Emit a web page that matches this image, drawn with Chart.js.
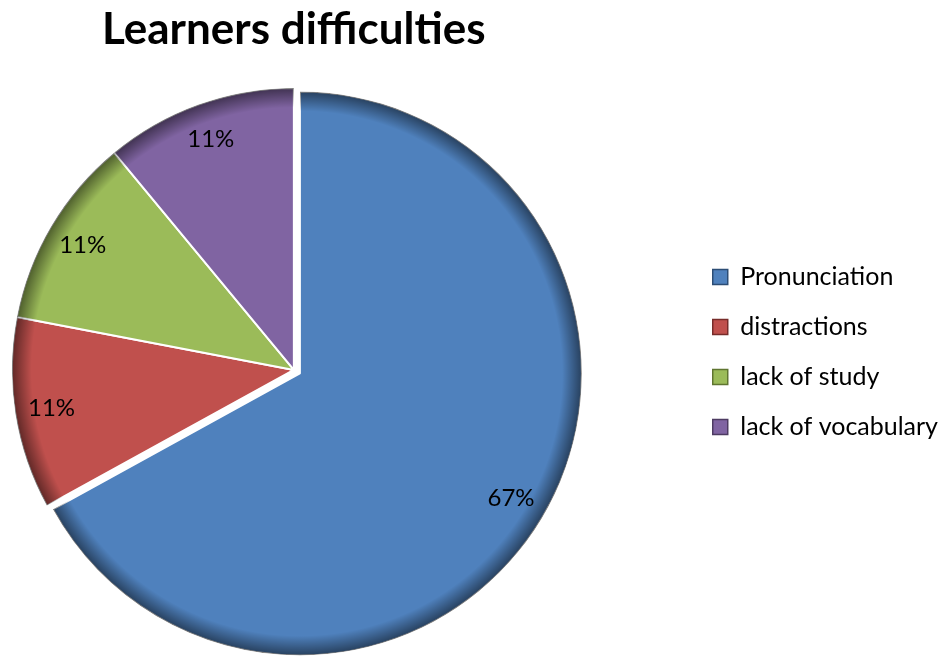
<!DOCTYPE html>
<html>
<head>
<meta charset="utf-8">
<title>Learners difficulties</title>
<script src="https://cdn.jsdelivr.net/npm/chart.js@4/dist/chart.umd.min.js"></script>
<style>
  html, body { margin: 0; padding: 0; background: #fff; }
  #wrap { width: 948px; height: 658px; position: relative; }
</style>
</head>
<body>
<div id="wrap"><canvas id="difficulties"></canvas></div>
<script>
// values (percent of learners)
const categories = ['Pronunciation', 'distractions', 'lack of study', 'lack of vocabulary'];
const shares = [67, 11, 11, 11];
const sliceColors = ['#4F81BD', '#C0504D', '#9BBB59', '#8064A2'];
const edgeColors = ['#2c4d75', '#772c2a', '#5f7530', '#4d3b62'];

// pull one slice out along its middle angle (like Excel's exploded point)
const explodePlugin = {
  id: 'explode',
  afterDatasetUpdate(chart, args, opts) {
    const arc = args.meta.data[opts.index];
    if (!arc) return;
    const mid = (arc.startAngle + arc.endAngle) / 2;
    arc.x += Math.cos(mid) * opts.distance;
    arc.y += Math.sin(mid) * opts.distance;
  }
};

// darker rim on every slice, a rough stand-in for the bevel
const rimPlugin = {
  id: 'rim',
  afterDatasetsDraw(chart) {
    const ctx = chart.ctx;
    chart.getDatasetMeta(0).data.forEach(arc => {
      const p = arc.getProps(['x', 'y', 'startAngle', 'endAngle', 'outerRadius'], true);
      ctx.save();
      ctx.beginPath();
      ctx.moveTo(p.x, p.y);
      ctx.arc(p.x, p.y, p.outerRadius, p.startAngle, p.endAngle);
      ctx.closePath();
      ctx.clip();
      const g = ctx.createRadialGradient(p.x, p.y, 0, p.x, p.y, p.outerRadius);
      g.addColorStop(0, 'rgba(0,0,0,0)');
      g.addColorStop(0.93, 'rgba(0,0,0,0)');
      g.addColorStop(1, 'rgba(0,0,0,0.5)');
      ctx.fillStyle = g;
      ctx.fill();
      ctx.restore();
    });
  }
};

// percent labels inside the slices
const percentPlugin = {
  id: 'percentLabels',
  afterDatasetsDraw(chart, args, opts) {
    const ctx = chart.ctx;
    const data = chart.data.datasets[0].data;
    chart.getDatasetMeta(0).data.forEach((arc, i) => {
      const p = arc.getProps(['x', 'y', 'startAngle', 'endAngle', 'outerRadius'], true);
      const mid = (p.startAngle + p.endAngle) / 2;
      const r = p.outerRadius * opts.position;
      ctx.save();
      ctx.font = opts.font;
      ctx.fillStyle = '#000';
      ctx.textAlign = 'center';
      ctx.textBaseline = 'middle';
      ctx.fillText(data[i] + '%', p.x + Math.cos(mid) * r, p.y + Math.sin(mid) * r);
      ctx.restore();
    });
  }
};

const ctx = document.getElementById('difficulties');

new Chart(ctx, {
  type: 'pie',
  data: {
    labels: categories,
    datasets: [{
      data: shares,
      backgroundColor: sliceColors,
      borderColor: '#ffffff',
      borderWidth: 2,
      radius: 282
    }]
  },
  options: {
    responsive: true,
    maintainAspectRatio: false,
    animation: false,
    events: [],
    layout: {
      padding: 0
    },
    plugins: {
      title: {
        display: true,
        text: 'Learners difficulties',
        fullSize: false,
        color: '#000',
        font: { family: 'Lato', size: 44, weight: 'bold', lineHeight: 1.2 },
        padding: { top: 3, bottom: 26 }
      },
      // empty box between pie and legend, keeps the pie left of centre
      subtitle: {
        display: true,
        text: ' ',
        position: 'right',
        fullSize: false,
        weight: 500,
        font: { size: 10, lineHeight: 1 },
        padding: { top: 45, bottom: 45 }
      },
      legend: {
        display: true,
        position: 'right',
        maxWidth: 300,
        title: {
          display: true,
          text: ' ',
          font: { size: 10, lineHeight: 1 },
          padding: { top: 36, bottom: 0 }
        },
        labels: {
          color: '#000',
          boxWidth: 15,
          boxHeight: 15,
          padding: 25,
          font: { family: 'Lato', size: 25 },
          generateLabels(chart) {
            const items = Chart.overrides.pie.plugins.legend.labels.generateLabels(chart);
            return items.map((item, i) => Object.assign(item, {
              strokeStyle: edgeColors[i],
              lineWidth: 1.5
            }));
          }
        }
      },
      tooltip: { enabled: false },
      explode: { index: 0, distance: 7 },
      percentLabels: { position: 0.87, font: '24px Lato' }
    }
  },
  plugins: [explodePlugin, rimPlugin, percentPlugin]
});
</script>
</body>
</html>
